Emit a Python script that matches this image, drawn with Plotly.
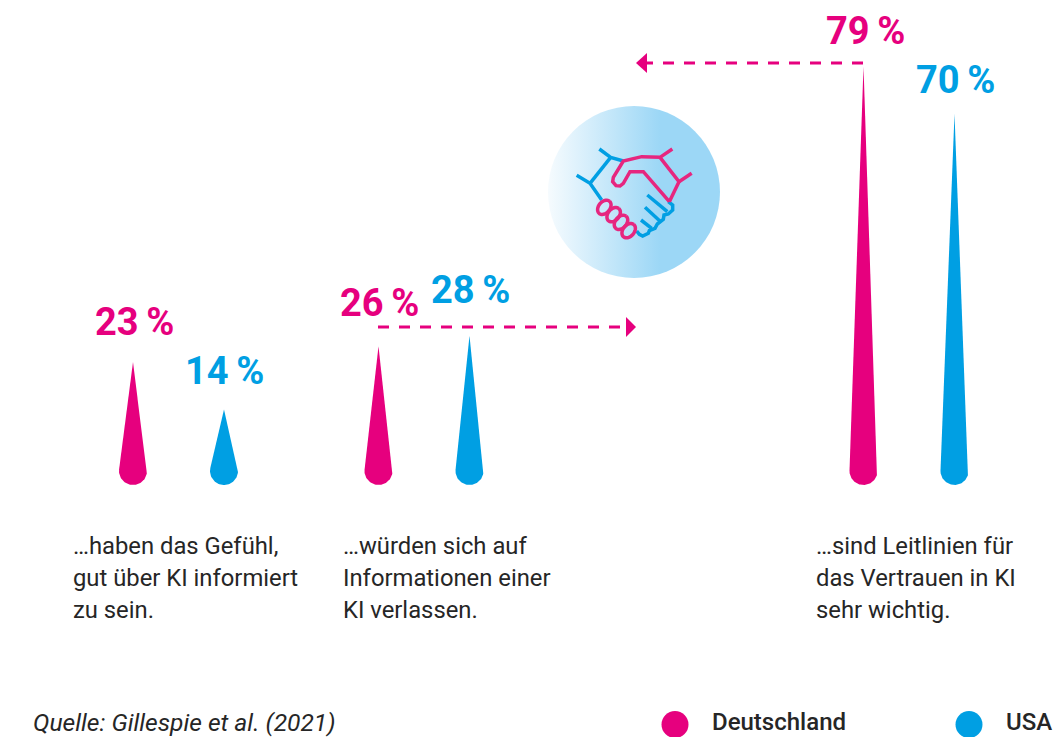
import base64
import numpy as np
import plotly.graph_objects as go

# ---- data ----
deutschland = [23, 26, 79]
usa = [14, 28, 70]
statements = [
    ["…haben das Gefühl,", "gut über KI informiert", "zu sein."],
    ["…würden sich auf", "Informationen einer", "KI verlassen."],
    ["…sind Leitlinien für", "das Vertrauen in KI", "sehr wichtig."],
]
series_names = ["Deutschland", "USA"]
source = "Quelle: Gillespie et al. (2021)"

PINK = "#e6007e"
BLUE = "#009fe3"
PINK2 = "#e6267f"
W, H = 1062, 737
BASE = 485.0   # pixel of value 0
SCALE = 5.28   # pixels per percent
de_x = [133, 378.5, 863.5]
us_x = [224, 469.5, 954.5]
text_x = [71, 341, 814]
de_label = [(134, 322), (379, 303), (865, 31)]
us_label = [(224, 371), (470, 290), (955, 80)]
TEXT_FONT = "Roboto"
NUM_FONT = "Roboto"
THIN = "\u2009"


def px(x):
    return x / W


def py(y):
    return 1 - y / H


def drop(cx, value, r=14.0, over=1.5):
    """Teardrop outline in axis units: tip at value, round foot on zero."""
    tip = value * SCALE + over
    d = tip - r
    a = np.arccos(r / d)
    t = np.linspace(np.pi / 2 - a, -3 * np.pi / 2 + a, 60)
    xs = cx + r * np.cos(t)
    ys = (r + r * np.sin(t)) / SCALE
    top = tip / SCALE
    return [cx] + xs.tolist() + [cx], [top] + ys.tolist() + [top]


fig = go.Figure()
for name, vals, xs, col in [
    (series_names[0], deutschland, de_x, PINK),
    (series_names[1], usa, us_x, BLUE),
]:
    for v, x in zip(vals, xs):
        dx, dy = drop(x, v)
        fig.add_trace(go.Scatter(x=dx, y=dy, mode="lines", fill="toself", fillcolor=col,
                                 line=dict(width=0, color=col), name=name, showlegend=False,
                                 hoverinfo="name+text", text=f"{v} %"))

shapes = []
annotations = []


def note(x, y, text, size, color, font=TEXT_FONT, anchor="left", weight=None, style=None):
    f = dict(family=font, size=size, color=color)
    if weight:
        f["weight"] = weight
    if style:
        f["style"] = style
    annotations.append(dict(x=px(x), y=py(y), xref="paper", yref="paper", text=text, showarrow=False,
                            xanchor=anchor, yanchor="middle", font=f))


for v, (x, y) in zip(deutschland, de_label):
    note(x, y, f"{v}{THIN}%", 38, PINK, NUM_FONT, "center", 700)
for v, (x, y) in zip(usa, us_label):
    note(x, y, f"{v}{THIN}%", 38, BLUE, NUM_FONT, "center", 700)

for x, lines in zip(text_x, statements):
    for i, line in enumerate(lines):
        note(x, 546 + 32 * i, line, 23.8, "#262626")

note(31, 722, source, 24.6, "#262626", style="italic")
note(710, 722, series_names[0], 24, "#262626", weight=500)
note(1004, 722, series_names[1], 24, "#262626", weight=500)


def pline(x0, y0, x1, y1):
    shapes.append(dict(type="line", xref="paper", yref="paper", x0=px(x0), x1=px(x1), y0=py(y0), y1=py(y1),
                       line=dict(color=PINK, width=3, dash="11px,10px")))


def poly(points, fill=None, color=None, width=3.5):
    p = "M" + " L".join(f"{px(a):.5f},{py(b):.5f}" for a, b in points)
    if fill:
        p += " Z"
    shapes.append(dict(type="path", xref="paper", yref="paper", path=p, fillcolor=fill or "rgba(0,0,0,0)",
                       line=dict(color=color or "rgba(0,0,0,0)", width=width if color else 0)))


# dashed arrows
pline(378, 327, 628, 327)
poly([(636, 327), (626, 317), (626, 337)], fill=PINK)
pline(863, 63, 645, 63)
poly([(636, 63), (647, 53), (647, 73)], fill=PINK)


# handshake icon (coordinates of the icon drawing)
def z(pts):
    return [(540 + a / 3, 100 + b / 3) for a, b in pts]


blue_paths = [
    [(178, 147), (212, 172), (250, 183)],
    [(212, 172), (150, 250)],
    [(110, 226), (150, 250), (185, 300)],
    [(322, 285), (382, 335)],
    [(315, 322), (362, 365)],
    [(303, 360), (335, 385)],
    [(385, 305), (398, 315), (398, 330), (385, 342), (372, 345), (370, 358), (352, 372), (345, 385),
     (328, 392), (325, 400), (308, 408), (298, 403), (290, 393)],
]
pink_paths = [
    [(397, 147), (360, 172), (305, 170), (250, 183), (220, 232), (218, 245), (228, 257), (240, 258),
     (250, 250), (270, 215), (310, 215), (388, 305)],
    [(360, 172), (417, 245), (388, 305)],
    [(417, 245), (455, 220)],
]
for p in blue_paths:
    poly(z(p), color=BLUE)
for p in pink_paths:
    poly(z(p), color=PINK2)
ang = np.radians(-50)
t = np.linspace(0, 2 * np.pi, 40)
for ccx, ccy in [(193, 322), (221, 344), (243, 367), (266, 392)]:
    ex = 24 * np.cos(t)
    ey = 17 * np.sin(t)
    poly(z(list(zip(ccx + ex * np.cos(ang) - ey * np.sin(ang), ccy + ex * np.sin(ang) + ey * np.cos(ang)))),
         color=PINK2)

# gradient disc behind the icon
svg = ('<svg xmlns="http://www.w3.org/2000/svg" width="172" height="172">'
       '<defs><linearGradient id="g" x1="0" x2="1" y1="0" y2="0">'
       '<stop offset="0" stop-color="#f6fbfe"/><stop offset="0.65" stop-color="#9cd7f6"/>'
       '<stop offset="1" stop-color="#9cd7f6"/></linearGradient></defs>'
       '<circle cx="86" cy="86" r="86" fill="url(#g)"/></svg>')
images = [dict(source="data:image/svg+xml;base64," + base64.b64encode(svg.encode()).decode(),
               xref="paper", yref="paper", x=px(548), y=py(106), sizex=172 / W, sizey=172 / H,
               xanchor="left", yanchor="top", sizing="stretch", layer="below")]

# legend dots
fig.add_trace(go.Scatter(x=[675, 969], y=[(BASE - 724.5) / SCALE] * 2, mode="markers", showlegend=False,
                         cliponaxis=True, hoverinfo="skip",
                         marker=dict(size=27, color=[PINK, BLUE], line=dict(width=0))))

fig.update_layout(
    width=W, height=H, autosize=False,
    margin=dict(l=0, r=0, t=0, b=0),
    paper_bgcolor="white", plot_bgcolor="white",
    shapes=shapes, annotations=annotations, images=images, showlegend=False,
    xaxis=dict(range=[0, W], visible=False, fixedrange=True),
    yaxis=dict(range=[(BASE - H) / SCALE, BASE / SCALE], visible=False, fixedrange=True),
)
fig.write_html("out.html", include_plotlyjs=True, config={"displayModeBar": False},
               post_script="document.body.style.margin='0';document.body.style.overflow='hidden';")
